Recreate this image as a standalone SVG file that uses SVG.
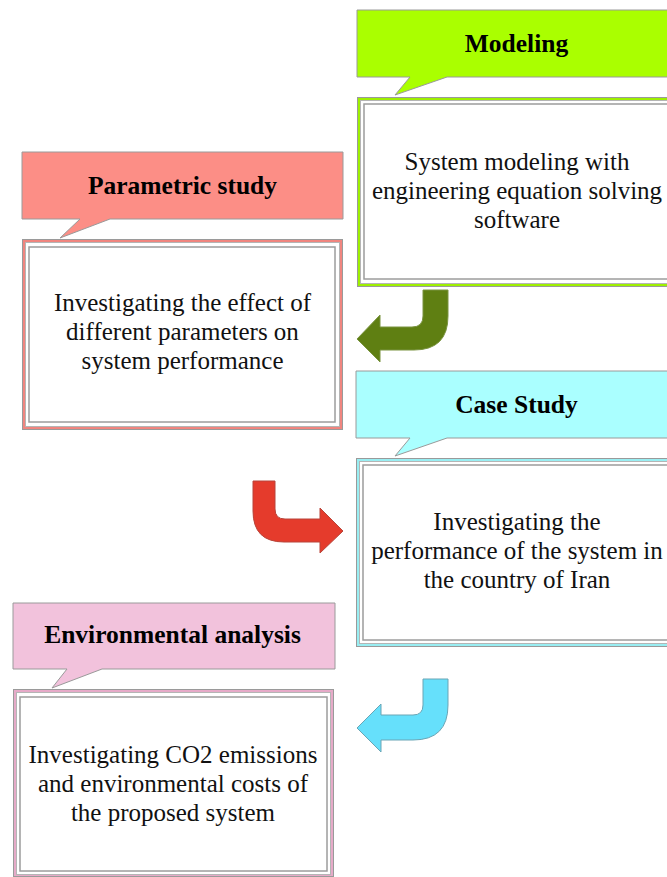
<svg xmlns="http://www.w3.org/2000/svg" width="667" height="877" viewBox="0 0 667 877">
<style>
.head{font-family:'Liberation Serif',serif;font-weight:bold;font-size:25.5px;fill:#000;text-anchor:middle}
.txt{font-family:'Liberation Serif',serif;font-size:25px;fill:#111;text-anchor:middle}
.call{stroke:#9a9a9a;stroke-width:1}
.white{fill:#fff;stroke:#b5b5b5;stroke-width:1}
.inner{fill:none;stroke:#9c9c9c;stroke-width:1.5}
.arrow{stroke-width:1}
</style>
<rect width="667" height="877" fill="#fff"/>

<g id="modeling">
  <path class="call" fill="#aaff00" d="M357 10 H680 V77 H447 L395 95 L410 77 H357 Z"/>
  <text class="head" x="516.5" y="52">Modeling</text>
  <rect x="357.5" y="97.5" width="330" height="189" fill="#9ef000" stroke="#9a9a9a"/>
  <rect class="white" x="360.5" y="100.5" width="330" height="183"/>
  <rect class="inner" x="364" y="104" width="330" height="175"/>
  <text class="txt" font-family="Liberation Serif" x="517" y="170">System modeling with</text>
  <text class="txt" font-family="Liberation Serif" x="517" y="199">engineering equation solving</text>
  <text class="txt" font-family="Liberation Serif" x="517" y="228">software</text>
</g>

<g id="parametric">
  <path class="call" fill="#fc8e86" d="M22 152 H343 V219 H110 L60 238 L80 219 H22 Z"/>
  <text class="head" x="182.5" y="194">Parametric study</text>
  <rect x="22.5" y="239.5" width="320" height="190" fill="#f0857f" stroke="#9a9a9a"/>
  <rect class="white" x="25.5" y="242.5" width="314" height="184"/>
  <rect class="inner" x="29" y="247" width="306" height="175"/>
  <text class="txt" font-family="Liberation Serif" x="182.5" y="311">Investigating the effect of</text>
  <text class="txt" font-family="Liberation Serif" x="182.5" y="340">different parameters on</text>
  <text class="txt" font-family="Liberation Serif" x="182.5" y="369">system performance</text>
</g>

<g id="case-study">
  <path class="call" fill="#aaffff" d="M356 371 H680 V438 H447 L395 456 L410 438 H356 Z"/>
  <text class="head" x="516.5" y="413">Case Study</text>
  <rect x="356.5" y="458.5" width="330" height="188" fill="#99eef2" stroke="#9a9a9a"/>
  <rect class="white" x="359.5" y="461.5" width="330" height="182"/>
  <rect class="inner" x="363" y="465" width="330" height="175"/>
  <text class="txt" font-family="Liberation Serif" x="517" y="530">Investigating the</text>
  <text class="txt" font-family="Liberation Serif" x="517" y="559">performance of the system in</text>
  <text class="txt" font-family="Liberation Serif" x="517" y="588">the country of Iran</text>
</g>

<g id="environmental">
  <path class="call" fill="#f2c2dc" d="M13 603 H335 V669 H102 L52 688 L67 669 H13 Z"/>
  <text class="head" x="172.5" y="643">Environmental analysis</text>
  <rect x="13.5" y="689.5" width="320" height="187" fill="#e6aac8" stroke="#9a9a9a"/>
  <rect class="white" x="16.5" y="692.5" width="314" height="182"/>
  <rect class="inner" x="20" y="697" width="307" height="174"/>
  <text class="txt" font-family="Liberation Serif" x="173" y="763">Investigating CO2 emissions</text>
  <text class="txt" font-family="Liberation Serif" x="173" y="792">and environmental costs of</text>
  <text class="txt" font-family="Liberation Serif" x="173" y="821">the proposed system</text>
</g>

<g id="connectors">
  <path class="arrow" fill="#5f7f12" stroke="#7a9440" d="M423 290 L448 290 L448 316 Q448 350 414 350 L380 350 L380 362 L357 339 L380 315 L380 327 L412 327 Q423 327 423 316 Z"/>
  <path class="arrow" fill="#e53b2c" stroke="#b8453a" d="M253 481 L275 481 L275 509 Q275 519 285 519 L320 519 L320 508 L343 531 L320 553 L320 542 L284 542 Q253 542 253 511 Z"/>
  <path class="arrow" fill="#66e0fb" stroke="#6aa5b5" d="M423 679 L448 679 L448 705 Q448 740 413 740 L381 740 L381 752 L357 728 L381 704 L381 715 L413 715 Q423 715 423 705 Z"/>
</g>
</svg>
